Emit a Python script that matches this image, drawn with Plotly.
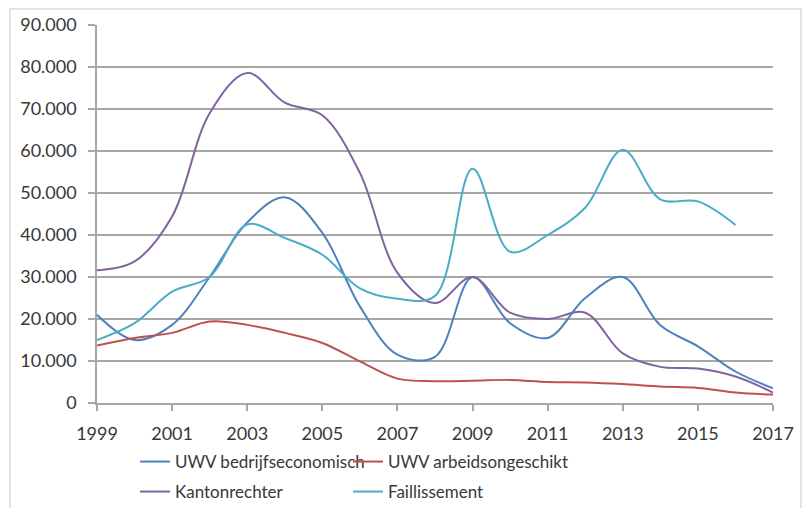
import plotly.graph_objects as go

years = list(range(1999, 2018))

uwv_bedrijf = [21000, 15000, 18600, 30000, 43000, 49000, 40500, 23000, 11500, 11000,
               30000, 19000, 15500, 25000, 30000, 18500, 13500, 7500, 3500]
uwv_arbeid = [13700, 15500, 16700, 19400, 18600, 16700, 14300, 9900, 5800, 5200,
              5300, 5500, 5000, 4900, 4500, 3900, 3600, 2500, 2000]
kantonrechter = [31600, 33700, 44400, 69000, 78600, 71500, 68500, 54800, 31000, 23800,
                 30000, 21500, 20000, 21500, 11800, 8600, 8200, 6300, 2500]
faillissement = [15000, 19000, 26500, 30000, 42500, 39300, 35300, 27300, 24800, 25500,
                 55800, 36000, 40000, 46500, 60300, 48500, 48000, 42400, None]

series_names = ["UWV bedrijfseconomisch", "UWV arbeidsongeschikt", "Kantonrechter", "Faillissement"]
series_values = [uwv_bedrijf, uwv_arbeid, kantonrechter, faillissement]
series_colors = ["#4F81BD", "#C0504D", "#8064A2", "#4BACC6"]
series_legend = ["legend", "legend2", "legend3", "legend4"]

x_ticks = list(range(1999, 2018, 2))
y_ticks = list(range(0, 90001, 10000))

fig = go.Figure()
for name, vals, col, lg in zip(series_names, series_values, series_colors, series_legend):
    fig.add_trace(go.Scatter(
        x=years, y=vals, name=name, mode="lines", legend=lg,
        line=dict(color=col, width=2, shape="spline", smoothing=1.0),
        connectgaps=False,
    ))

font_family = "Lato, 'Open Sans', sans-serif"
text_color = "#383838"

# the page body has an 8px margin: the figure sits at (8, 8) and must fit in 810x516
OFF = 8
W, H = 794, 500
L, T, R, B = 89, 17, 29, 105
PW, PH = W - L - R, H - T - B  # 676 x 378


def px_x(sx):
    return (sx - OFF - L) / PW


def px_y(sy):
    return (H - B - (sy - OFF)) / PH


def cx(sx):
    return (sx - OFF) / W


def cy(sy):
    return 1 - (sy - OFF) / H


legend_common = dict(
    orientation="h", xanchor="left", yanchor="middle",
    xref="container", yref="container",
    itemwidth=30, bgcolor="rgba(0,0,0,0)",
    font=dict(family=font_family, size=17, color=text_color),
)

col1, col2 = 135, 348
row1, row2 = 462, 492

fig.update_layout(
    width=W, height=H,
    margin=dict(l=L, r=R, t=T, b=B, autoexpand=False),
    paper_bgcolor="white", plot_bgcolor="white",
    separators=",.",
    font=dict(family=font_family, size=17, color=text_color),
    showlegend=True,
    legend=dict(x=cx(col1), y=cy(row1), **legend_common),
    legend2=dict(x=cx(col2), y=cy(row1), **legend_common),
    legend3=dict(x=cx(col1), y=cy(row2), **legend_common),
    legend4=dict(x=cx(col2), y=cy(row2), **legend_common),
    xaxis=dict(
        range=[1999, 2017], tickvals=x_ticks, ticktext=[str(v) for v in x_ticks],
        showgrid=False, zeroline=False,
        showline=True, linecolor="#A6A6A6", linewidth=1.5,
        ticks="outside", ticklen=6, tickcolor="#A6A6A6", tickwidth=1.5,
        tickfont=dict(size=18), ticklabelstandoff=8,
    ),
    yaxis=dict(
        range=[0, 90000], tickvals=y_ticks, tickformat=",d",
        showgrid=True, gridcolor="#A6A6A6", gridwidth=1.5,
        zeroline=False,
        showline=True, linecolor="#A6A6A6", linewidth=1.5,
        ticks="outside", ticklen=7, tickcolor="#A6A6A6", tickwidth=1.5,
        tickfont=dict(size=18), ticklabelstandoff=8,
    ),
    shapes=[dict(
        type="rect", xref="paper", yref="paper",
        x0=px_x(10), x1=px_x(801),
        y0=px_y(530), y1=px_y(9),
        line=dict(color="#D9D9D9", width=1.5), fillcolor="rgba(0,0,0,0)", layer="below",
    )],
)

fig.write_html("out.html")
